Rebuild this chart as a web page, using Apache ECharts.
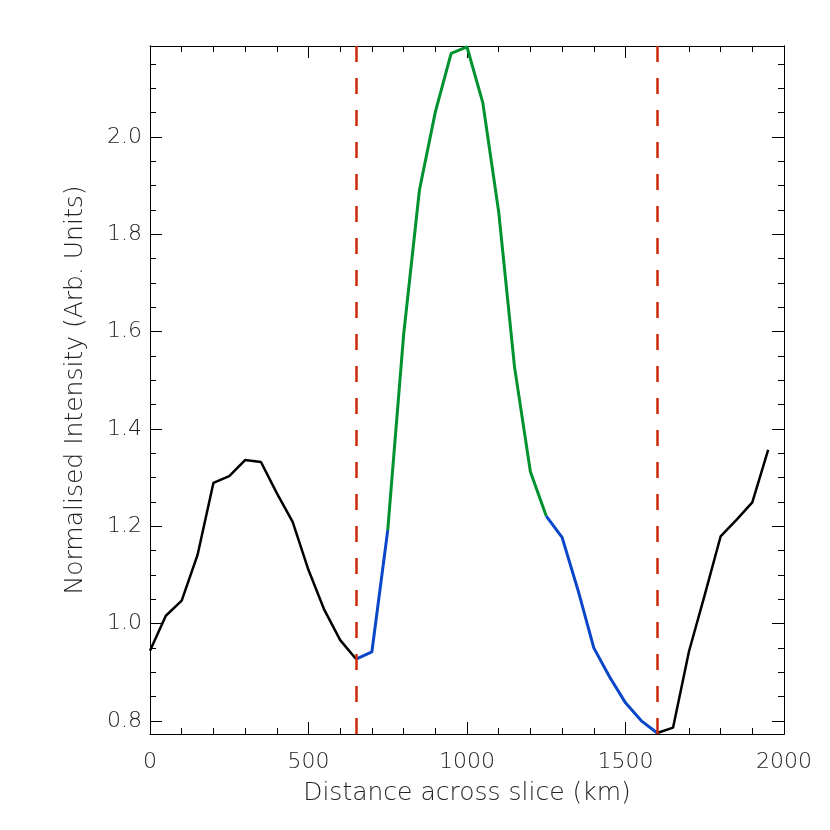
<!DOCTYPE html>
<html>
<head>
<meta charset="utf-8">
<script src="https://cdn.jsdelivr.net/npm/echarts@6/dist/echarts.min.js"></script>
<style>
  html, body { margin: 0; padding: 0; background: #fff; }
  #chart { width: 830px; height: 830px; }
</style>
</head>
<body>
<div id="chart"></div>
<script>
// distance across slice (km), one sample every 50 km
const distance = [0, 50, 100, 150, 200, 250, 300, 350, 400, 450,
  500, 550, 600, 650, 700, 750, 800, 850, 900, 950,
  1000, 1050, 1100, 1150, 1200, 1250, 1300, 1350, 1400, 1450,
  1500, 1550, 1600, 1650, 1700, 1750, 1800, 1850, 1900, 1950];
const intensity = [0.944, 1.016, 1.047, 1.141, 1.289, 1.303, 1.336, 1.332, 1.268, 1.209,
  1.110, 1.028, 0.966, 0.927, 0.942, 1.192, 1.593, 1.891, 2.051, 2.172,
  2.185, 2.070, 1.846, 1.527, 1.312, 1.221, 1.177, 1.069, 0.950, 0.890,
  0.837, 0.800, 0.775, 0.786, 0.942, 1.059, 1.179, 1.213, 1.249, 1.357];

// coloured pieces of the profile: [first index, last index, colour]
const segments = [
  [0, 13, '#000000'],
  [13, 15, '#0a47c8'],
  [15, 25, '#00922e'],
  [25, 32, '#0a47c8'],
  [32, 39, '#000000']
];
const boundaries = [650, 1600];

const yMajor = [0.8, 1.0, 1.2, 1.4, 1.6, 1.8, 2.0];
const yMinor = [0.8, 0.85, 0.9, 0.95, 1.0, 1.05, 1.1, 1.15, 1.2, 1.25, 1.3, 1.35, 1.4,
  1.45, 1.5, 1.55, 1.6, 1.65, 1.7, 1.75, 1.8, 1.85, 1.9, 1.95, 2.0, 2.05, 2.1, 2.15];

const font = 'DejaVu Sans';
const txt = '#222';
const yMin = 0.773, yMax = 2.187;

function xAx(pos, show) {
  return {
    type: 'value', position: pos, min: 0, max: 2000, interval: 500,
    axisLine: { show: true, onZero: false, lineStyle: { color: '#000', width: 1 } },
    axisTick: { show: true, inside: true, length: 12, lineStyle: { color: '#000' } },
    minorTick: { show: true, splitNumber: 5, length: 6, lineStyle: { color: '#000' } },
    splitLine: { show: false },
    axisLabel: { show: show, margin: 17, color: txt, fontFamily: font, fontWeight: 200, fontSize: 22,
      formatter: v => String(v) },
    name: show ? 'Distance across slice (km)' : '',
    nameLocation: 'middle', nameGap: 47,
    nameTextStyle: { color: txt, fontFamily: font, fontWeight: 200, fontSize: 25 }
  };
}
function yAx(pos, ticks, len, show) {
  return {
    type: 'value', position: pos, min: yMin, max: yMax,
    axisLine: { show: true, onZero: false, lineStyle: { color: '#000', width: 1 } },
    axisTick: { show: true, inside: true, length: len, customValues: ticks, lineStyle: { color: '#000' } },
    splitLine: { show: false },
    axisLabel: {
      show: show, margin: 8, customValues: yMajor, color: txt, fontFamily: font, fontWeight: 200, fontSize: 22,
      formatter: v => v.toFixed(1)
    },
    name: show ? 'Normalised Intensity (Arb. Units)' : '',
    nameLocation: 'middle', nameGap: 62,
    nameTextStyle: { color: txt, fontFamily: font, fontWeight: 200, fontSize: 25 }
  };
}

const series = segments.map(function (s, k) {
  const pts = [];
  for (let i = s[0]; i <= s[1]; i++) pts.push([distance[i], intensity[i]]);
  const isColour = s[2] !== '#000000';
  const out = {
    type: 'line', data: pts, symbol: 'none', animation: false,
    lineStyle: { color: s[2], width: isColour ? 3 : 2.5 },
    z: isColour ? 3 : 2
  };
  if (k === 0) {
    out.markLine = {
      silent: true, symbol: 'none', animation: false,
      label: { show: false },
      lineStyle: { color: '#cc2a08', width: 2.5, type: [16, 16] },
      data: boundaries.map(b => ({ xAxis: b }))
    };
  }
  return out;
});

const chart = echarts.init(document.getElementById('chart'));
chart.setOption({
  backgroundColor: '#fff',
  animation: false,
  grid: { left: 150, right: 46, top: 46, bottom: 96 },
  xAxis: [xAx('bottom', true), xAx('top', false)],
  yAxis: [
    yAx('left', yMajor, 12, true),
    yAx('left', yMinor, 6, false),
    yAx('right', yMajor, 12, false),
    yAx('right', yMinor, 6, false)
  ],
  series: series
});
</script>
</body>
</html>
